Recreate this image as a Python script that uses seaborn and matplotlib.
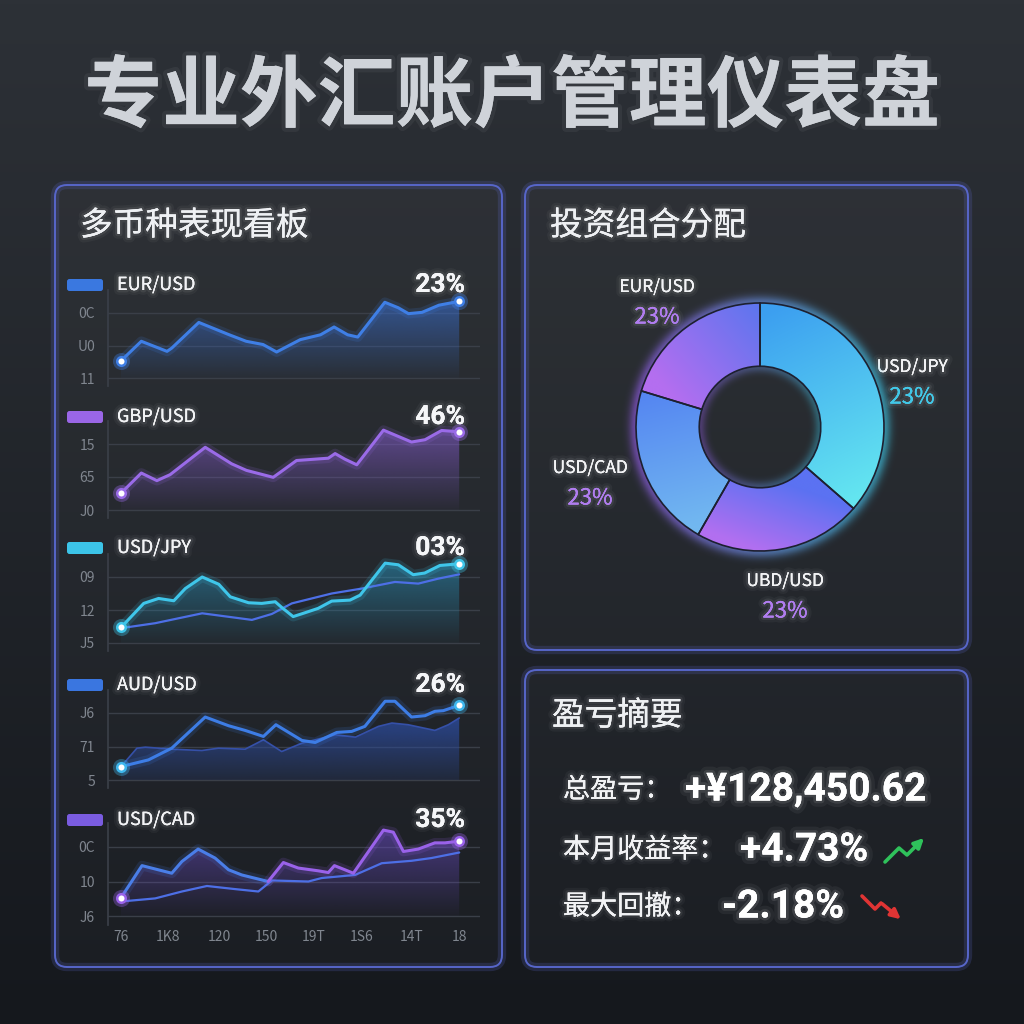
import numpy as np
import matplotlib
matplotlib.use("Agg")
import matplotlib.pyplot as plt
import matplotlib.patheffects as pe
from matplotlib.patches import FancyBboxPatch
from matplotlib.colors import to_rgb
import seaborn as sns

# ---------------- data ----------------
title = "专业外汇账户管理仪表盘"
pairs = ["EUR/USD", "GBP/USD", "USD/JPY", "AUD/USD", "USD/CAD"]
pair_pct = ["23%", "46%", "03%", "26%", "35%"]
ytick_text = [["11", "U0", "0C"], ["J0", "65", "15"], ["J5", "12", "09"],
              ["5", "71", "J6"], ["J6", "10", "0C"]]
xtick_pos = [0, 14, 29, 43, 57, 71, 86, 100]
xtick_text = ["76", "1K8", "120", "150", "19T", "1S6", "14T", "18"]

eur_x = [0, 6, 13.6, 15, 23, 32, 37, 42, 46, 53, 59, 63, 67, 70, 78, 82, 85, 89, 94, 100]
eur_y = [0.53, 1.13, 0.82, 0.92, 1.71, 1.33, 1.13, 1.03, 0.80, 1.18, 1.33, 1.57, 1.33, 1.26,
         2.33, 2.16, 1.98, 2.02, 2.24, 2.36]

gbp_x = [0, 6, 10.6, 14.5, 24.9, 32.7, 37.1, 45, 51.9, 61.3, 63.3, 66.2, 69.7, 77.6, 85.9,
         89.9, 94.8, 100]
gbp_y = [0.51, 1.12, 0.89, 1.07, 1.90, 1.40, 1.20, 0.99, 1.50, 1.57, 1.71, 1.54, 1.37, 2.42,
         2.06, 2.13, 2.41, 2.37]

jpy_x = [0, 6.7, 11.1, 15.6, 19.0, 24.0, 28.9, 32.3, 37.7, 41.6, 45.6, 47.5, 50.9, 53.9, 58.3,
         62.3, 67.7, 70.7, 78.1, 82.0, 86.4, 89.8, 94.3, 100]
jpy_y = [0.47, 1.20, 1.35, 1.28, 1.65, 2.00, 1.78, 1.40, 1.22, 1.20, 1.25, 1.08, 0.80, 0.90,
         1.05, 1.27, 1.30, 1.45, 2.42, 2.37, 2.07, 2.12, 2.35, 2.40]
jpy_bench_x = [0, 10.1, 24.0, 38.7, 44.6, 50.5, 62.3, 71.2, 81.0, 87.9, 93.8, 100]
jpy_bench_y = [0.45, 0.60, 0.90, 0.70, 0.88, 1.20, 1.50, 1.65, 1.85, 1.80, 1.95, 2.08]

aud_x = [0, 8.1, 15.0, 24.9, 31.8, 36.7, 42.1, 45.8, 53.5, 57.4, 63.8, 68.2, 72.1, 78.1, 81.0,
         85.9, 89.9, 92.8, 95.3, 100]
aud_y = [0.40, 0.60, 0.95, 1.88, 1.62, 1.48, 1.30, 1.65, 1.18, 1.12, 1.42, 1.45, 1.60, 2.35,
         2.35, 1.88, 1.92, 2.05, 2.07, 2.23]
aud_area_x = [0, 4.7, 7.2, 15.0, 23.9, 28.8, 36.7, 42.1, 47.5, 53.5, 63.4, 69.3, 76.1, 80.1,
              84.9, 92.8, 96.8, 100]
aud_area_y = [0.40, 0.95, 0.98, 0.92, 0.88, 0.95, 0.92, 1.20, 0.85, 1.10, 1.35, 1.28, 1.60,
              1.70, 1.65, 1.48, 1.65, 1.85]

cad_x = [0, 6.2, 15.0, 18.0, 22.8, 27.8, 31.8, 35.7, 43.5, 48.0, 52.4, 58.3, 61.3, 63.1, 66.2,
         68.7, 77.6, 80.5, 83.5, 87.9, 92.8, 95.8, 100]
cad_y = [0.53, 1.46, 1.24, 1.58, 1.94, 1.68, 1.34, 1.19, 1.00, 1.55, 1.39, 1.31, 1.26, 1.46,
         1.34, 1.24, 2.49, 2.43, 1.87, 1.94, 2.12, 2.12, 2.17]
cad_bench_x = [0, 10.1, 18.0, 25.4, 33.7, 40.6, 44.6, 55.4, 59.3, 69.2, 77.1, 85.9, 91.8, 100]
cad_bench_y = [0.42, 0.51, 0.71, 0.87, 0.78, 0.71, 1.03, 1.00, 1.10, 1.19, 1.53, 1.60, 1.68, 1.84]

alloc_labels = ["EUR/USD", "USD/CAD", "UBD/USD", "USD/JPY"]
alloc_share = [20.3, 21.4, 21.9, 36.4]
alloc_text = ["23%", "23%", "23%", "23%"]

summary_labels = ["总盈亏：", "本月收益率：", "最大回撤："]
summary_values = ["+¥128,450.62", "+4.73%", "-2.18%"]

# ---------------- style ----------------
sns.set_theme(style="dark", rc={"axes.facecolor": "none", "figure.facecolor": "#1e2228"})
plt.rcParams["font.family"] = ["Noto Sans CJK SC", "DejaVu Sans"]
NUM_FONT = ["Roboto", "Noto Sans CJK SC", "DejaVu Sans"]

W = H = 1024
fig = plt.figure(figsize=(10.24, 10.24), dpi=100)


def px_rect(l, t, r, b):
    return [l / W, 1 - b / H, (r - l) / W, (b - t) / H]


glow = [pe.Stroke(linewidth=7, foreground=(1, 1, 1, 0.04)),
        pe.Stroke(linewidth=3.5, foreground=(1, 1, 1, 0.07)), pe.Normal()]

# background layer in pixel coords
ax0 = fig.add_axes([0, 0, 1, 1], zorder=0)
ax0.set_xlim(0, W)
ax0.set_ylim(H, 0)
ax0.axis("off")
top_c, bot_c = np.array(to_rgb("#2d3137")), np.array(to_rgb("#15181d"))
t = np.linspace(0, 1, 256)[:, None, None]
bg = top_c * (1 - t) + bot_c * t
bg = np.repeat(bg, 2, axis=1)
ax0.imshow(bg, extent=(0, W, H, 0), aspect="auto", zorder=0)

ax0.text(512, 98, title, ha="center", va="center", fontsize=56, fontweight="bold",
         color="#cfd3d9", path_effects=[pe.withStroke(linewidth=6, foreground=(1, 1, 1, 0.05))])

# panels
for (x, y, w, h) in [(55, 185, 447, 782), (525, 185, 443, 465), (525, 670, 443, 297)]:
    ax0.add_patch(FancyBboxPatch((x, y), w, h, boxstyle="round,pad=0,rounding_size=12",
                                 fc=(1, 1, 1, 0.025), ec=(0.40, 0.45, 0.90, 0.18), lw=6, zorder=1))
    ax0.add_patch(FancyBboxPatch((x, y), w, h, boxstyle="round,pad=0,rounding_size=12",
                                 fc="none", ec="#5766c9", lw=1.4, zorder=2))

ax0.text(80, 226, "多币种表现看板", fontsize=23.5, color="#eef0f3", va="center", path_effects=glow)
ax0.text(550, 226, "投资组合分配", fontsize=23.5, color="#eef0f3", va="center", path_effects=glow)
ax0.text(552, 716, "盈亏摘要", fontsize=23.5, color="#eef0f3", va="center", path_effects=glow)

# ---------------- line charts ----------------
X_L, X_R = 107.5, 479.5
Y_LO, Y_HI = -0.25, 2.7
grid_px = [(378, 313), (510, 444), (643, 577), (780, 713), (916, 847)]
legend_y = [285, 417, 548, 685, 820]
patch_colors = ["#3a78e0", "#9a66e6", "#3cc4e8", "#3a76e0", "#7a5ce0"]


def grad_fill(ax, x, y, color, a_top=0.5, a_bot=0.03, z=1):
    poly = ax.fill_between(x, y, 0, color="none", lw=0)
    img = np.zeros((256, 1, 4))
    img[:, 0, :3] = to_rgb(color)
    img[:, 0, 3] = np.linspace(a_bot, a_top, 256)
    im = ax.imshow(img, extent=(min(x), max(x), 0, max(y)), origin="lower",
                   aspect="auto", zorder=z)
    im.set_clip_path(poly.get_paths()[0], transform=ax.transData)


def glow_line(ax, x, y, color, lw=2.2, z=3):
    sns.lineplot(x=x, y=y, ax=ax, color=color, lw=lw * 3.2, alpha=0.15, zorder=z)
    sns.lineplot(x=x, y=y, ax=ax, color=color, lw=lw, zorder=z + 1)


def end_dots(ax, x, y, color):
    px, py = [x[0], x[-1]], [y[0], y[-1]]
    ax.scatter(px, py, s=150, color=color, alpha=0.35, lw=0, zorder=6)
    ax.scatter(px, py, s=38, color="white", edgecolors=color, linewidths=1.8, zorder=7)


axes = []
for i, (g0, g2) in enumerate(grid_px):
    u = (g0 - g2) / 2
    top = g2 - (Y_HI - 2) * u
    bot = g0 - Y_LO * u
    ax = fig.add_axes(px_rect(X_L, top, X_R, bot), zorder=2)
    ax.set_facecolor("none")
    axes.append(ax)

    yl = legend_y[i]
    ax0.add_patch(FancyBboxPatch((67, yl - 6), 36, 12, boxstyle="round,pad=0,rounding_size=2.5",
                                 fc=patch_colors[i], ec="none", zorder=3))
    ax0.text(117, yl, pairs[i], fontsize=13, color="#f2f3f5", va="center", path_effects=glow)
    ax0.text(465, yl, pair_pct[i], fontsize=19, fontweight="bold", family=NUM_FONT,
             color="#f5f6f8", ha="right", va="center", path_effects=glow)

# EUR/USD
ax = axes[0]
grad_fill(ax, eur_x, eur_y, "#3b74dc", a_top=0.55)
glow_line(ax, eur_x, eur_y, "#3f7fe6")
end_dots(ax, eur_x, eur_y, "#3f7fe6")

# GBP/USD
ax = axes[1]
grad_fill(ax, gbp_x, gbp_y, "#8a5fd8", a_top=0.55)
glow_line(ax, gbp_x, gbp_y, "#9a6be8")
end_dots(ax, gbp_x, gbp_y, "#9a6be8")

# USD/JPY
ax = axes[2]
grad_fill(ax, jpy_x, jpy_y, "#2a9cc8", a_top=0.5)
sns.lineplot(x=jpy_bench_x, y=jpy_bench_y, ax=ax, color="#4d6fe6", lw=1.6, zorder=3)
glow_line(ax, jpy_x, jpy_y, "#3fc6ea")
end_dots(ax, jpy_x, jpy_y, "#3fc6ea")

# AUD/USD
ax = axes[3]
grad_fill(ax, aud_area_x, aud_area_y, "#2d4fa8", a_top=0.75, a_bot=0.15)
sns.lineplot(x=aud_area_x, y=aud_area_y, ax=ax, color="#3550a8", lw=1.2, zorder=3)
glow_line(ax, aud_x, aud_y, "#3d7de6")
end_dots(ax, aud_x, aud_y, "#3fb8ee")

# USD/CAD
ax = axes[4]
grad_fill(ax, cad_x, cad_y, "#6a4cc8", a_top=0.55)
sns.lineplot(x=cad_bench_x, y=cad_bench_y, ax=ax, color="#4d6fe6", lw=1.6, zorder=3)
glow_line(ax, cad_x[:9], cad_y[:9], "#4a7ee8")
glow_line(ax, cad_x[8:], cad_y[8:], "#9a62ea")
end_dots(ax, cad_x, cad_y, "#9a62ea")

for i, ax in enumerate(axes):
    ax.set_xlim(-4, 106)
    ax.set_ylim(Y_LO, Y_HI)
    ax.set_xlabel("")
    ax.set_ylabel("")
    ax.set_yticks([0, 1, 2])
    ax.set_yticklabels(ytick_text[i])
    ax.grid(axis="y", color="#3a3f48", lw=1)
    ax.grid(axis="x", visible=False)
    for s in ["top", "right", "bottom"]:
        ax.spines[s].set_visible(False)
    ax.spines["left"].set_color("#3a3f48")
    ax.tick_params(length=0, colors="#80868f", labelsize=10, pad=9)
    if i < 4:
        ax.set_xticks([])
    else:
        ax.set_xticks(xtick_pos)
        ax.set_xticklabels(xtick_text)
        ax.tick_params(axis="x", pad=4)

# ---------------- donut ----------------
dax = fig.add_axes(px_rect(620, 287, 900, 567), zorder=2)
dax.axis("off")
L = 1.129
gx, gy = np.meshgrid(np.linspace(-L, L, 400), np.linspace(-L, L, 400))
rr = np.hypot(gx, gy)
th = np.arctan2(gy, gx)
mix = ((np.cos(th) + 1) / 2)[..., None]
gcol = np.array(to_rgb("#9a5ff0")) * (1 - mix) + np.array(to_rgb("#40d0f0")) * mix
ga = np.where(rr > 1, 0.6 * np.exp(-((rr - 1) / 0.06) ** 2), 0)
ga += np.where(rr < 0.49, 0.35 * np.exp(-((0.49 - rr) / 0.05) ** 2), 0)
dax.imshow(np.dstack([gcol, ga]), extent=(-L, L, -L, L), origin="lower", zorder=1)

wedges, _ = dax.pie(alloc_share, startangle=90, counterclock=True, radius=1,
                    wedgeprops=dict(width=0.51, edgecolor="#1d2030", linewidth=1.2))
grads = [((0.05, 1.0), "#5876ee", (-0.75, 0.3), "#b46ef0"),
         ((-0.9, 0.5), "#4f7cf2", (-0.55, -0.8), "#72b8f0"),
         ((0.2, -0.45), "#5b72f2", (0.0, -1.0), "#b26ff0"),
         ((0.1, 0.95), "#3c9ff0", (0.85, -0.55), "#64e6f0")]
for w, (p0, c0, p1, c1) in zip(wedges, grads):
    d = np.array(p1) - np.array(p0)
    tt = ((gx - p0[0]) * d[0] + (gy - p0[1]) * d[1]) / (d @ d)
    tt = np.clip(tt, 0, 1)[..., None]
    col = np.array(to_rgb(c0)) * (1 - tt) + np.array(to_rgb(c1)) * tt
    im = dax.imshow(col, extent=(-L, L, -L, L), origin="lower", zorder=2)
    im.set_clip_path(w)
    w.set_facecolor("none")
    w.set_zorder(3)
dax.set_xlim(-L, L)
dax.set_ylim(-L, L)
dax.set_aspect("equal")

label_pos = [(657, 287, "#b07cf0"), (590, 468, "#b07cf0"), (785, 581, "#b07cf0"),
             (912, 367, "#40c8e8")]
for (x, y, c), name, pct in zip(label_pos, alloc_labels, alloc_text):
    ax0.text(x, y, name, fontsize=12.5, color="#f2f3f5", ha="center", va="center",
             path_effects=glow)
    ax0.text(x, y + 30, pct, fontsize=16, color=c, ha="center", va="center",
             fontweight="medium", path_effects=glow)

# ---------------- summary ----------------
rows_y = [790, 850, 907]
value_x = [685, 740, 722]
for lab, val, y, vx in zip(summary_labels, summary_values, rows_y, value_x):
    ax0.text(563, y, lab, fontsize=19.5, color="#f2f3f5", va="center", path_effects=glow)
    ax0.text(vx, y, val, fontsize=28, fontweight="bold", family=NUM_FONT, color="#ffffff",
             va="center", path_effects=[pe.Stroke(linewidth=9, foreground=(1, 1, 1, 0.05)),
                                        pe.Stroke(linewidth=4, foreground=(1, 1, 1, 0.1)),
                                        pe.Normal()])

ax0.plot([885, 899, 907], [862, 848, 855], color="#2fc25b", lw=2.6, solid_capstyle="round",
         zorder=5)
ax0.annotate("", xy=(926, 836), xytext=(906, 856),
             arrowprops=dict(arrowstyle="-|>", color="#2fc25b", lw=2.6, mutation_scale=14),
             zorder=5)
ax0.plot([862, 875, 881], [896, 909, 903], color="#e03434", lw=2.6, solid_capstyle="round",
         zorder=5)
ax0.annotate("", xy=(903, 921), xytext=(880, 902),
             arrowprops=dict(arrowstyle="-|>", color="#e03434", lw=2.6, mutation_scale=14),
             zorder=5)

fig.savefig("out.png", dpi=100, facecolor=fig.get_facecolor())
